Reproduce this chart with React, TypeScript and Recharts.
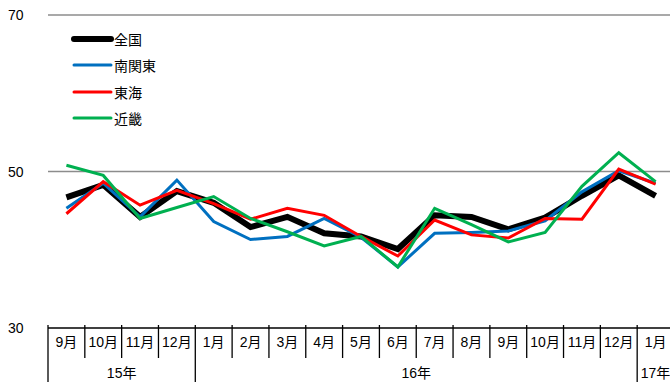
import { LineChart, Line, XAxis, YAxis, ReferenceLine } from 'recharts';

const FONT = '"Liberation Sans", Arial, "Noto Sans CJK JP", sans-serif';

// 月次（2015年9月〜2017年1月）
const months = ['9月', '10月', '11月', '12月', '1月', '2月', '3月', '4月', '5月', '6月', '7月', '8月', '9月', '10月', '11月', '12月', '1月'];
const years = [
  { label: '15年', start: 0, count: 4 },
  { label: '16年', start: 4, count: 12 },
  { label: '17年', start: 16, count: 1 },
];

const national = [46.7, 48.3, 44.2, 47.5, 46.0, 42.9, 44.2, 42.1, 41.7, 40.1, 44.4, 44.2, 42.6, 44.1, 46.9, 49.5, 46.9];
const minamiKanto = [45.3, 48.5, 44.2, 48.9, 43.6, 41.3, 41.7, 44.0, 41.6, 37.8, 42.1, 42.2, 42.4, 43.7, 47.4, 50.1, 48.5];
const tokai = [44.6, 48.7, 45.7, 47.6, 45.9, 43.9, 45.3, 44.4, 41.7, 39.2, 43.8, 41.9, 41.5, 44.0, 43.9, 50.3, 48.4];
const kinki = [50.8, 49.5, 44.0, 45.4, 46.8, 44.0, 42.3, 40.5, 41.7, 37.8, 45.3, 43.2, 41.0, 42.2, 48.1, 52.4, 48.7];

const yTicks = [30, 50, 70];

const series = [
  { key: 'national', name: '全国', color: '#000000', width: 6 },
  { key: 'minamiKanto', name: '南関東', color: '#0070C0', width: 3 },
  { key: 'tokai', name: '東海', color: '#FF0000', width: 3 },
  { key: 'kinki', name: '近畿', color: '#00B050', width: 3 },
];

const data = months.map((m, i) => ({
  month: m,
  national: national[i],
  minamiKanto: minamiKanto[i],
  tokai: tokai[i],
  kinki: kinki[i],
}));

const CHART_W = 679;
const CHART_H = 382;
const Y_AXIS_W = 48;
const RIGHT = 5;
// one month's slot; points sit in the middle of each slot
const STEP = (CHART_W - Y_AXIS_W - RIGHT) / months.length;

const MonthTick = ({ x, y, payload, index }: any) => {
  const left = x - STEP / 2;
  const yr = years.find(g => g.start === index);
  return (
    <g>
      <line x1={left} y1={y - 3} x2={left} y2={yr ? y + 60 : y + 30} stroke="#000" strokeWidth={1.3} />
      <text x={x} y={y + 19} textAnchor="middle" fontSize={14} fill="#000" fontFamily={FONT}>
        {payload.value}
      </text>
      {yr && (
        <text x={left + (yr.count * STEP) / 2} y={y + 50} textAnchor="middle" fontSize={14} fill="#000" fontFamily={FONT}>
          {yr.label}
        </text>
      )}
    </g>
  );
};

const ValueTick = ({ y, payload }: any) => (
  <text x={8} y={y + 5} textAnchor="start" fontSize={14} fill="#000" fontFamily={FONT}>
    {payload.value}
  </text>
);

const LegendBox = () => (
  <div style={{ position: 'absolute', left: 70, top: 26, fontFamily: FONT, fontSize: 14, color: '#000' }}>
    {series.map(s => (
      <div key={s.key} style={{ display: 'flex', alignItems: 'center', height: 26.3 }}>
        <svg width={44} height={10}>
          <line x1={4} y1={5} x2={41} y2={5} stroke={s.color} strokeWidth={s.width} strokeLinecap="round" />
        </svg>
        <span>{s.name}</span>
      </div>
    ))}
  </div>
);

export default function App() {
  return (
    <div style={{ position: 'absolute', left: 0, top: 0, width: 670, height: 382, overflow: 'hidden', background: '#fff' }}>
      <LineChart width={CHART_W} height={CHART_H} data={data} margin={{ top: 15, right: RIGHT, left: 0, bottom: 0 }}>
        <YAxis
          width={Y_AXIS_W}
          domain={[30, 70]}
          ticks={yTicks}
          axisLine={false}
          tickLine={false}
          tick={<ValueTick />}
          interval={0}
        />
        <XAxis
          dataKey="month"
          height={54}
          interval={0}
          padding={{ left: STEP / 2, right: STEP / 2 }}
          tickSize={0}
          tickMargin={0}
          tickLine={false}
          axisLine={{ stroke: '#000', strokeWidth: 1.5 }}
          tick={<MonthTick />}
        />
        <ReferenceLine y={70} stroke="#8c8c8c" strokeWidth={1.5} />
        <ReferenceLine y={50} stroke="#8c8c8c" strokeWidth={1.5} />
        {series.map(s => (
          <Line
            key={s.key}
            type="linear"
            dataKey={s.key}
            name={s.name}
            stroke={s.color}
            strokeWidth={s.width}
            dot={false}
            activeDot={false}
            isAnimationActive={false}
          />
        ))}
      </LineChart>
      <LegendBox />
    </div>
  );
}
